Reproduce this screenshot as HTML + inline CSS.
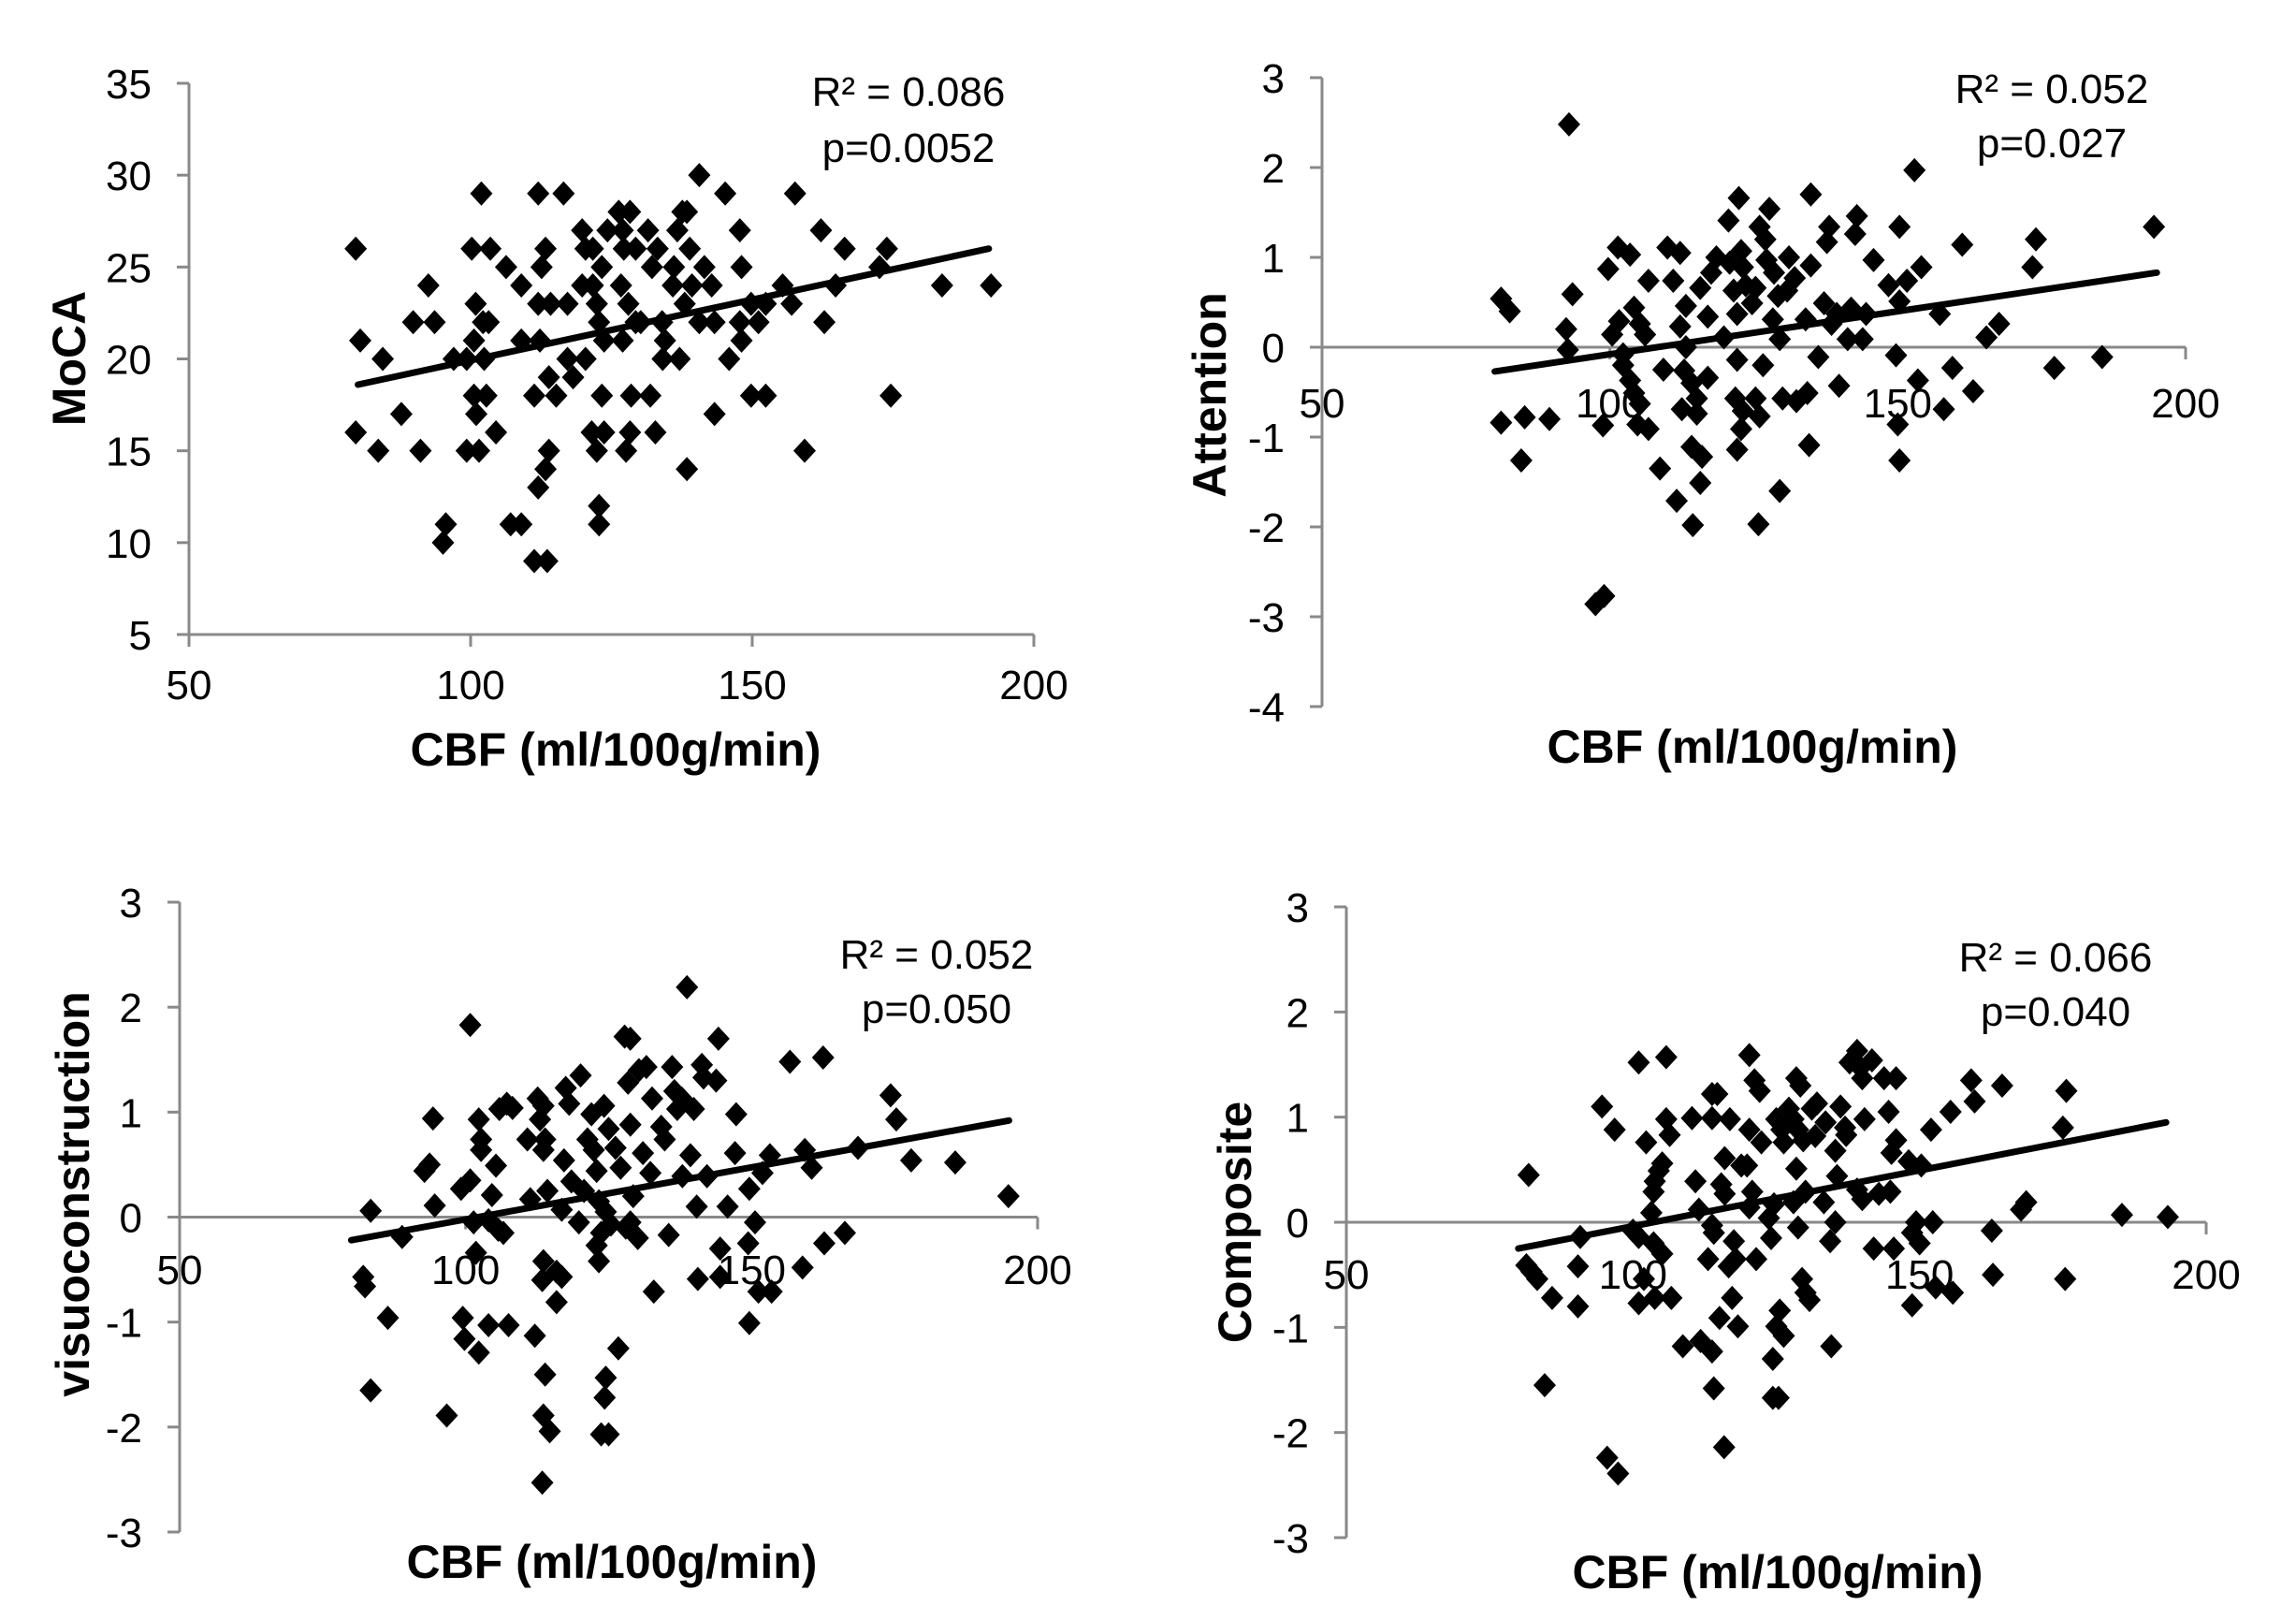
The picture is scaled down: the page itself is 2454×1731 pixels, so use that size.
<!DOCTYPE html>
<html><head><meta charset="utf-8"><style>
html,body{margin:0;padding:0;background:#fff;}
svg{display:block;font-family:"Liberation Sans",Arial,sans-serif;}
</style></head><body>
<svg id="fig" width="2454" height="1731" viewBox="0 0 2454 1731" xmlns="http://www.w3.org/2000/svg"></svg>
<script>
// ---------- Data ----------
const xTicks = [50, 100, 150, 200];
const mocaTicks = [5, 10, 15, 20, 25, 30, 35];
const attTicks = [-4, -3, -2, -1, 0, 1, 2, 3];
const zTicks = [-3, -2, -1, 0, 1, 2, 3];

const mocaX = [79.6,80.4,79.6,84.4,83.6,87.7,92.5,89.8,93.6,91.1,95.6,95.1,97,99.3,99.3,101.5,100.9,100.2,103.5,101.9,100.6,102.2,103.2,102.4,100.6,102.8,101,104.5,106.3,109,109,112.3,112,116.5,113.3,112.6,112,114.2,117.2,111.3,113.9,115.2,113.3,113.9,112,107.1,109,111.3,113.6,117.2,118.2,119.8,120.4,119.8,121.7,120.4,121.7,122.8,122.4,123.3,123.7,123.3,121.5,123.7,122.4,122.8,122.8,124.3,126.3,128.3,127,126.7,127,128,127.2,129.3,129.3,130.2,128.3,127.6,128.5,131.5,131.9,132.8,133.2,132.2,134,134.5,134.1,135.9,136.1,136.7,137.6,138.4,137.1,138,138.9,139.3,140.6,141.5,140.6,142.8,143.3,145.2,138.4,143.3,145.9,147.8,148.1,147.8,148.1,149.8,151.1,149.8,152.4,152.4,155.4,157,157.6,159.3,162.2,162.8,164.8,166.4,172.6,173.9,174.6,183.7,192.4];
const mocaY = [26,21,16,20,15,17,24,22,22,15,11,10,20,20,15,15,23,26,26,29,21,22,22,20,18,18,17,16,25,24,21,21,29,29,26,25,23,23,23,18,19,18,14,15,13,11,11,9,9,20,19,27,26,24,24,20,26,22,23,25,21,18,16,16,15,12,11,27,28,28,27,24,21,23,26,26,22,22,16,15,18,27,18,16,26,25,22,21,20,24,25,27,28,28,20,23,26,24,30,25,22,24,22,29,14,17,20,27,25,22,21,23,22,18,18,23,24,23,29,15,27,22,24,26,25,26,18,24,24];

const attX = [81.1,82.6,81.1,85.2,84.6,89.5,92.9,93.5,92.4,92.7,99.7,98.8,97.5,99,101.4,103.5,100.4,101.6,102.3,102.3,104.2,105.2,106.1,106.7,103.5,104.2,105.2,104.8,106.7,108.7,110,112.2,111,113.2,112.2,113.2,109.3,112.9,114.2,115.1,117,112.5,115.1,114.2,116,115.7,111.6,114.4,117,118.5,115.7,117.6,120.6,122.4,120.8,121.5,119.8,122.1,122.8,123.1,123.6,122.1,121.8,123.1,122.8,122.1,124.7,125.3,126,127,127.7,127.2,128.5,128.3,129.5,129.2,126.6,125.3,126,129.5,125.8,130,131.1,132.1,130.8,132.4,134.3,134.9,134.9,134,134.6,136.2,137.2,137.7,138.1,138.5,139.4,139.8,141.3,141.9,142.9,142.6,143.9,144.5,145.8,148.4,150.3,151.6,152.9,154.1,149.7,150.3,153.5,150,150.3,157.3,158,159.5,161.2,163.1,165.4,167.6,173.4,174,177.2,185.5,194.5];
const attY = [0.54,0.4,-0.84,-0.78,-1.26,-0.8,2.48,0.59,0.2,-0.03,0.87,-0.87,-2.86,-2.77,1.11,1.03,0.14,0.29,-0.08,-0.2,0.44,0.26,0.14,0.74,-0.37,-0.51,-0.63,-0.86,-0.91,-1.35,1.11,1.05,0.74,0.46,0.23,0,-0.25,-0.26,-0.4,-0.57,-0.34,-0.69,-0.74,-1.11,-1.22,-1.51,-1.71,-1.98,0.34,1.0,0.66,0.83,1.41,1.66,0.94,0.63,0.11,0.37,1.07,0.89,0.69,-0.14,-0.57,-0.71,-0.91,-1.14,0.49,0.66,1.34,1.2,1.54,0.97,0.83,0.31,0.09,0.57,-0.2,-0.57,-0.77,-1.6,-1.97,-0.57,1.0,0.77,0.63,-0.6,-0.51,0.91,1.7,0.31,-1.09,-0.11,0.49,1.17,1.34,0.26,0.37,-0.43,0.09,0.43,1.46,1.26,0.09,0.37,0.97,0.69,1.34,0.74,1.97,0.89,-0.09,0.51,-0.37,-0.86,-1.26,0.37,-0.69,-0.23,1.14,-0.49,0.11,0.26,0.89,1.2,-0.23,-0.11,1.34];

const visX = [83.4,82.1,82.4,83.4,86.4,88.9,92.8,93.7,94.3,94.6,96.7,99.2,100.8,100.8,101.4,101.8,99.5,99.8,102.3,102.3,102.7,102.7,105.3,104.6,104,105.7,106.6,104,107.5,105.9,107.2,108.2,110.8,111.3,112.6,113.6,113,113.9,113.6,114.3,113.6,113.4,112.1,113.9,113.6,114.7,113.4,115.9,116.8,115.9,116.8,117.2,117.5,118.1,118.5,120.1,120.7,119.8,121.3,122.4,122,122.9,123.3,123.7,122.9,123.3,124.2,125,126.2,124.5,125.4,123.7,125,124.5,124.3,126.7,127.1,127.8,128.8,128.4,128.8,129.3,128.8,128,130.1,131,130.3,131.6,132.6,132.3,132.9,134.2,134.8,135.5,136.1,136.5,137,137.8,138.7,137.9,139.3,139.9,140.4,140.6,141.3,141.6,142.2,144.2,143.8,145.8,144.5,144.5,147.3,147.1,149.6,149.4,150.6,149.6,151.9,151.2,153.5,153.2,156.7,159.3,160.5,158.9,162.5,162.7,166.3,168.6,174.3,175.3,177.9,185.6,194.9];
const visY = [0.06,-0.57,-0.66,-1.65,-0.96,-0.19,0.44,0.5,0.94,0.11,-1.89,0.27,1.83,0.35,-0.05,-0.34,-0.96,-1.16,-1.29,0.93,0.74,0.64,0.49,0.21,-0.03,-0.12,-0.15,-1.03,-1.03,1.03,1.08,1.04,0.74,0.17,1.13,1.06,0.93,0.74,0.64,0.25,-0.42,-0.6,-1.13,-1.5,-1.89,-2.04,-2.53,-0.52,-0.57,-0.81,0.07,0.54,1.23,1.08,0.34,1.35,0.25,-0.05,0.74,0.64,0.98,0.44,0.15,-0.15,-0.27,-0.42,1.06,0.84,0.66,0.05,-0.07,-2.07,-2.07,-1.53,-1.72,-1.25,0.47,1.72,1.7,1.28,0.88,0.2,-0.05,-0.1,-0.2,0.61,1.4,1.43,1.13,0.42,-0.71,0.86,0.74,-0.17,1.43,1.2,1.03,1.13,2.19,0.39,0.59,1.03,0.1,-0.59,1.45,1.33,0.39,1.7,1.3,0.1,-0.3,-0.57,0.98,0.61,0.27,-0.25,-0.05,-1.01,0.42,-0.71,-0.71,0.59,1.48,0.64,0.47,-0.48,1.52,-0.25,-0.15,0.66,1.16,0.93,0.54,0.52,0.2];

const compX = [81.8,81.4,82.3,83.3,85.9,84.6,90.4,90.8,90.4,94.6,96.8,95.5,97.4,101,105.8,102.3,100,101,103.6,105.1,103.2,103.6,103.8,104.5,105.1,105.8,106.4,101.9,101,103.8,106.7,108.7,110.3,110.9,111.5,111.8,113.8,114.1,113.1,113.8,114.1,113.8,113.8,114.7,115.4,116,116,116.9,116.7,117.6,117.3,115.1,115.9,118.3,117.9,118.9,119.9,120.3,120.3,120.8,120.3,121.2,122.1,121.5,122.4,123.7,124.1,124.4,125.4,124.4,125,125.6,126.3,124.6,125,125.9,126.3,127.2,128,128.5,129.2,128.8,129.7,128.5,128,128.8,130.1,129.5,130.1,130.8,131.2,132.1,131.8,133.6,133.3,134.4,135.3,134.6,135.6,135.3,136.2,137,137.2,137.8,139.1,139.7,140,139.1,140,140.4,141.7,142,142.9,143.8,144.6,144.9,145.1,145.9,145.9,145.5,148.1,148.7,149.4,150,148.7,150.3,152,152.3,152.8,155.4,155.8,159,159.6,162.6,162.8,164.4,167.7,168.6,175,175.6,175.4,185.3,193.3];
const compY = [0.45,-0.41,-0.47,-0.54,-0.72,-1.55,-0.42,-0.14,-0.8,1.1,0.88,-2.24,-2.39,1.52,1.57,0.76,-0.08,-0.14,-0.2,-0.3,0.09,0.29,0.39,0.49,0.56,0.98,0.83,-0.54,-0.77,-0.72,-0.72,-1.18,0.99,0.39,0.12,-1.13,-1.23,-1.58,-0.35,-0.03,-0.1,0.99,1.22,1.22,0.36,0.27,0.61,0.98,-0.42,-0.18,-0.72,-0.91,-2.14,-0.99,-0.35,0.54,0.54,1.59,0.88,0.29,0.14,1.35,1.25,-0.35,0.76,0.04,-0.15,-1.67,-1.67,-1.3,-0.99,-0.84,-1.08,0.17,0.98,0.88,0.76,1.08,0.98,1.37,1.3,0.88,0.78,0.51,0.19,-0.05,0.29,-0.54,-0.67,-0.74,1.08,1.13,0.82,0.95,0.19,-0.18,0,-1.18,0.44,0.68,1.1,0.9,0.83,1.52,1.63,1.47,1.37,0.31,0.22,0.98,1.54,-0.25,0.27,1.37,1.05,0.29,0.66,1.37,0.78,-0.25,0.58,-0.1,0,-0.2,-0.79,0.54,0.88,0,-0.62,1.05,-0.67,1.35,1.15,-0.08,-0.5,1.3,0.12,0.19,0.9,1.25,-0.54,0.07,0.05];

const mocaTrend = [80, 18.6, 192, 26.0];
const attTrend = [80, -0.27, 195, 0.83];
const visTrend = [80, -0.22, 195, 0.92];
const compTrend = [80, -0.25, 193, 0.95];

const statsLabels = [["R² = 0.086","p=0.0052"],["R² = 0.052","p=0.027"],["R² = 0.052","p=0.050"],["R² = 0.066","p=0.040"]];

// ---------- Layout ----------
const NS = "http://www.w3.org/2000/svg";
const svg = document.getElementById('fig');
function mk(tag, attrs, parent){ const e=document.createElementNS(NS,tag); for(const k in attrs) e.setAttribute(k,attrs[k]); (parent||svg).appendChild(e); return e; }

const panels = [
 {key:'moca', title:'MoCA', xs:mocaX, ys:mocaY, trend:mocaTrend, yt:mocaTicks, ymin:5, ymax:35, x0:202, x1:1105, yTop:89, yBot:678, xAxisAt:5, xlabY:731, titleX:658, titleY:800, ytX:73, ytY:383, statX:971, statY:97, statY2:157},
 {key:'attention', title:'Attention', xs:attX, ys:attY, trend:attTrend, yt:attTicks, ymin:-4, ymax:3, x0:1413, x1:2336, yTop:83, yBot:755, xAxisAt:0, xlabY:430, titleX:1873, titleY:797, ytX:1292, ytY:422, statX:2193, statY:94, statY2:152},
 {key:'visuoconstruction', title:'visuoconstruction', xs:visX, ys:visY, trend:visTrend, yt:zTicks, ymin:-3, ymax:3, x0:192, x1:1109, yTop:964, yBot:1637, xAxisAt:0, xlabY:1356, titleX:654, titleY:1668, ytX:77, ytY:1276, statX:1001, statY:1019, statY2:1077},
 {key:'composite', title:'Composite', xs:compX, ys:compY, trend:compTrend, yt:zTicks, ymin:-3, ymax:3, x0:1439, x1:2358, yTop:969, yBot:1643, xAxisAt:0, xlabY:1361, titleX:1900, titleY:1679, ytX:1319, ytY:1306, statX:2197, statY:1022, statY2:1080}
];

panels.forEach((p, pi) => {
  const g = mk('g', {});
  
  
  const sx = v => p.x0 + (v - 50) / 150 * (p.x1 - p.x0);
  const sy = v => p.yBot - (v - p.ymin) / (p.ymax - p.ymin) * (p.yBot - p.yTop);
  const axisY = sy(p.xAxisAt);
  const gray = '#898989';
  const ya = mk('line', {x1:p.x0, y1:p.yTop, x2:p.x0, y2:p.yBot, stroke:gray, 'stroke-width':3}, g);
  
  
  p.yt.forEach(t => {
    const y = sy(t);
    const tk = mk('line', {x1:p.x0-13, y1:y, x2:p.x0, y2:y, stroke:gray, 'stroke-width':3}, g);
    
    
    const tl = mk('text', {x:p.x0-40, y:y+16, 'text-anchor':'end', 'font-size':44, fill:'#000'}, g);
    tl.textContent = String(t);
    
    
  });
  const xa = mk('line', {x1:p.x0, y1:axisY, x2:p.x1, y2:axisY, stroke:gray, 'stroke-width':3}, g);
  
  
  xTicks.forEach(t => {
    const x = sx(t);
    const tk = mk('line', {x1:x, y1:axisY, x2:x, y2:axisY+13, stroke:gray, 'stroke-width':3}, g);
    
    
    const tl = mk('text', {x:x, y:p.xlabY+16, 'text-anchor':'middle', 'font-size':44, fill:'#000'}, g);
    tl.textContent = String(t);
    
    
  });
  p.xs.forEach((xv, i) => {
    const cx = sx(xv), cy = sy(p.ys[i]);
    const d = mk('path', {d:`M${cx},${cy-13}L${cx+12},${cy}L${cx},${cy+13}L${cx-12},${cy}Z`, fill:'#000'}, g);
    
    
  });
  const tr = p.trend;
  const tl = mk('line', {x1:sx(tr[0]), y1:sy(tr[1]), x2:sx(tr[2]), y2:sy(tr[3]), stroke:'#000', 'stroke-width':7, 'stroke-linecap':'round'}, g);
  
  
  const s1 = mk('text', {x:p.statX, y:p.statY+16, 'text-anchor':'middle', 'font-size':44, fill:'#000'}, g);
  s1.textContent = statsLabels[pi][0];
  
  
  const s2 = mk('text', {x:p.statX, y:p.statY2+16, 'text-anchor':'middle', 'font-size':44, fill:'#000'}, g);
  s2.textContent = statsLabels[pi][1];
  
  
  const xt = mk('text', {x:p.titleX, y:p.titleY+18, 'text-anchor':'middle', 'font-size':50, 'font-weight':'bold', fill:'#000'}, g);
  xt.textContent = 'CBF (ml/100g/min)';
  
  
  const yt = mk('text', {x:0, y:0, 'text-anchor':'middle', 'font-size':50, 'font-weight':'bold', fill:'#000', transform:`translate(${p.ytX+18},${p.ytY}) rotate(-90)`}, g);
  yt.textContent = p.title;
  
  
});
</script>
</body></html>
